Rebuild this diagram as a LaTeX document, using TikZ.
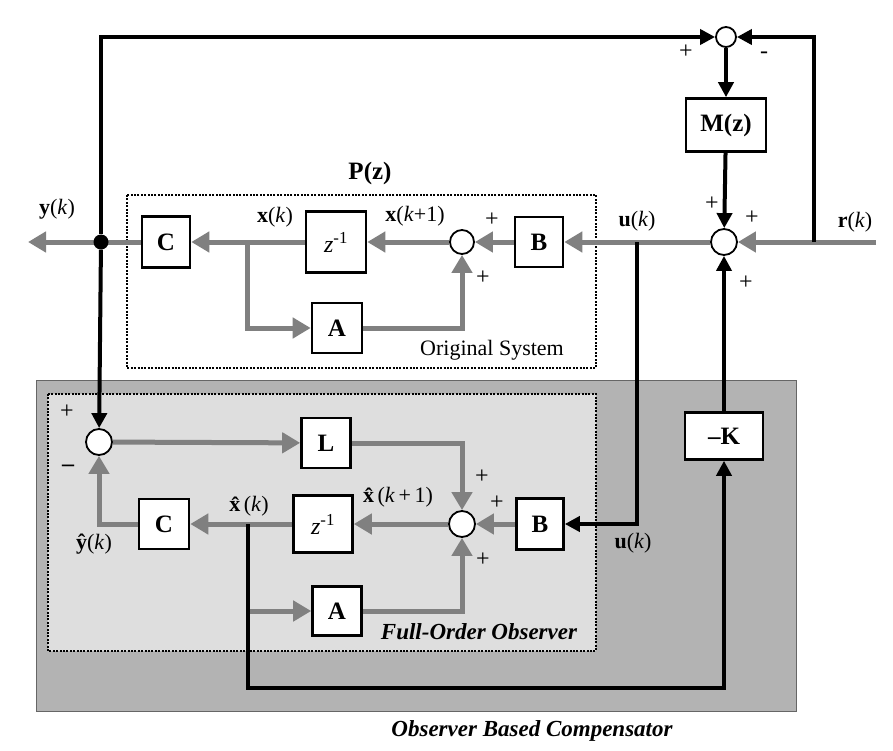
\documentclass[tikz,border=0pt]{standalone}
\usepackage{fontspec}
\setmainfont{Liberation Serif}
\usetikzlibrary{arrows.meta,positioning,calc}

\definecolor{sig}{HTML}{808080}
\definecolor{outerbg}{HTML}{B3B3B3}
\definecolor{innerbg}{HTML}{DEDEDE}

\begin{document}
\begin{tikzpicture}[x=1pt,y=-1pt,
  every node/.style={font=\fontsize{22}{24}\selectfont},
  blk/.style={draw, line width=2.6pt, fill=white, inner sep=0pt, font=\fontsize{25}{27}\selectfont\bfseries},
  sumj/.style={circle, draw, line width=1.8pt, fill=white, inner sep=0pt, minimum size=#1},
  sumj/.default=26pt,
  gline/.style={draw=sig, line width=5pt},
  garrow/.style={gline, -{Triangle[length=18pt,width=20pt]}},
  bline/.style={draw=black, line width=4pt},
  barrow/.style={bline, -{Triangle[length=15pt,width=15pt]}},
  sgn/.style={font=\fontsize{24}{26}\selectfont},
  frame/.style={draw=black, line width=2.2pt, dash pattern=on 2pt off 1.4pt}
]
  \useasboundingbox (0,0) rectangle (893,751);

  % backgrounds
  \draw[fill=outerbg, draw=black!60, line width=1pt] (36,380) rectangle (796,711);
  \draw[frame, fill=innerbg] (48,394) rectangle (596,651);
  \draw[frame] (127,195) rectangle (596,368);

  % plant P(z)
  \node[blk, minimum width=48pt, minimum height=50pt] (Bp) at (539,242) {B};
  \node[sumj=24pt] (sumP) at (462,242) {};
  \node[blk, minimum width=60pt, minimum height=61pt, font=\fontsize{24}{26}\selectfont] (Zp) at (336,242) {\textit{z}\textsuperscript{-1}};
  \node[blk, minimum width=48pt, minimum height=51pt] (Cp) at (166,242) {C};
  \node[blk, minimum width=50pt, minimum height=50pt] (Ap) at (337,328) {A};

  % reference path
  \node[sumj=20pt] (sumT) at (726,37) {};
  \node[blk, minimum width=80pt, minimum height=53pt] (M) at (726,125) {M(z)};
  \node[sumj] (sumU) at (724,242) {};
  \node[blk, minimum width=78pt, minimum height=47pt] (K) at (724,436) {--K};

  % observer
  \node[sumj] (So) at (99,442) {};
  \node[blk, minimum width=49pt, minimum height=50pt] (L) at (326,443) {L};
  \node[sumj] (sumO) at (462,524) {};
  \node[blk, minimum width=47pt, minimum height=51pt] (Bo) at (540,524) {B};
  \node[blk, minimum width=59pt, minimum height=57pt, font=\fontsize{24}{26}\selectfont] (Zo) at (323,524) {\textit{z}\textsuperscript{-1}};
  \node[blk, minimum width=50pt, minimum height=50pt] (Co) at (164,524) {C};
  \node[blk, minimum width=49pt, minimum height=49pt] (Ao) at (337,611) {A};

  \coordinate (yout) at (28,242);
  \coordinate (rin) at (876,242);
  \coordinate (rtap) at (814,242);
  \coordinate (tl) at (101,37);
  \coordinate (xk) at (247,242);
  \coordinate (utap) at (637,242);
  \coordinate (xh) at (248,524);
  \coordinate (kc) at (248,688);

  % gray signal lines
  \draw[garrow] (rin) -- (sumU);
  \draw[garrow] (sumU) -- (Bp);
  \draw[garrow] (Bp) -- (sumP);
  \draw[garrow] (sumP) -- (Zp);
  \draw[garrow] (Zp) -- (Cp);
  \draw[garrow] (Cp) -- (yout);
  \draw[garrow] (xk) |- (Ap);
  \draw[garrow] (Ap) -| (sumP);
  \draw[garrow] (So) -- (L);
  \draw[garrow] (L) -| (sumO);
  \draw[garrow] (Bo) -- (sumO);
  \draw[garrow] (sumO) -- (Zo);
  \draw[garrow] (Zo) -- (Co);
  \draw[garrow] (Co) -| (So);
  \draw[garrow] (xh |- Ao) -- (Ao);
  \draw[garrow] (Ao) -| (sumO);

  % black feedback lines
  \node[circle, fill=black, inner sep=0pt, minimum size=15pt] (dot) at (101,242) {};
  \draw[barrow] (dot) -- (tl) -- (sumT);
  \draw[barrow] (dot) -- (So);
  \draw[barrow] (rtap) |- (sumT);
  \draw[barrow] (sumT) -- (M);
  \draw[barrow] (M) -- (sumU);
  \draw[barrow] (utap) |- (Bo);
  \draw[barrow] (xh) -- (kc) -| (K);
  \draw[barrow] (K) -- (sumU);

  % labels
  \node[font=\fontsize{25}{27}\selectfont\bfseries] at (370,173) {P(z)};
  \node at (57,209) {\textbf{y}(\textit{k})};
  \node at (275,217) {\textbf{x}(\textit{k})};
  \node at (415,216) {\textbf{x}(\textit{k}+1)};
  \node at (637,221) {\textbf{u}(\textit{k})};
  \node at (855,222) {\textbf{r}(\textit{k})};
  \node at (492,350) {Original System};

  \node[sgn] at (686,52) {+};
  \node[sgn] at (764,55) {-};
  \node[sgn] at (492,220) {+};
  \node[sgn] at (483,278) {+};
  \node[sgn] at (712,204) {+};
  \node[sgn] at (752,218) {+};
  \node[sgn] at (746,283) {+};

  \node[sgn] at (67,412) {+};
  \node[sgn, font=\fontsize{24}{26}\selectfont\bfseries] at (68,468) {--};
  \node[sgn] at (482,477) {+};
  \node[sgn] at (497,503) {+};
  \node[sgn] at (483,560) {+};

  \node at (94,544) {\textbf{\^y}(\textit{k})};
  \node at (249,506) {\textbf{\^x}(\textit{k})};
  \node at (398,497) {\textbf{\^x}(\textit{k}\,+\,1)};
  \node at (633,543) {\textbf{u}(\textit{k})};
  \node[font=\fontsize{23}{25}\selectfont\bfseries\itshape] at (479,632) {Full-Order Observer};
  \node[font=\fontsize{23}{25}\selectfont\bfseries\itshape] at (532,731) {Observer Based Compensator};
\end{tikzpicture}
\end{document}
